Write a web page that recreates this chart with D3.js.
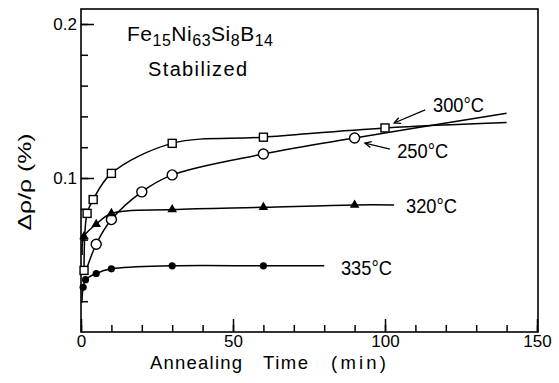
<!DOCTYPE html>
<html><head><meta charset="utf-8">
<script src="https://cdn.jsdelivr.net/npm/d3@7"></script>
<style>body{margin:0;background:#fff}svg{display:block}text{font-family:"Liberation Sans",Arial,sans-serif;fill:#000}</style>
</head><body>
<svg id="c" width="559" height="383"></svg>
<script>
// ---- data (annealing time in min, Δρ/ρ in %) ----
const xTickLabels = [0, 50, 100, 150];
const yTickLabels = [0.1, 0.2];

const t300 = [1, 2, 4, 10, 30, 60, 100];
const v300 = [0.040, 0.077, 0.086, 0.103, 0.1225, 0.1265, 0.1325];
const t300Line = [140], v300Line = [0.136];

const t250 = [5, 10, 20, 30, 60, 90];
const v250 = [0.057, 0.073, 0.091, 0.102, 0.1156, 0.126];
const t250Start = [1.2], v250Start = [0.037];
const t250Line = [140], v250Line = [0.142];

const t320 = [1, 5, 10, 30, 60, 90];
const v320 = [0.062, 0.070, 0.077, 0.0795, 0.081, 0.0825];
const t320Start = [0.4], v320Start = [0.05];
const t320Line = [103], v320Line = [0.0825];

const t335 = [0.7, 1.5, 5, 10, 30, 60];
const v335 = [0.029, 0.034, 0.038, 0.041, 0.043, 0.043];
const t335Start = [0.3], v335Start = [0.019];
const t335Line = [80], v335Line = [0.043];

const seriesLabels = ["300°C", "250°C", "320°C", "335°C"];
const labelT = [115.8, 104, 106.9, 85.5];
const labelV = [0.1429, 0.113, 0.0773, 0.037];
// arrows: tail -> tip
const arrowTail = [[113.2, 0.1442], [101.6, 0.1188]];
const arrowTip  = [[103, 0.1357], [93.4, 0.1227]];

// ---- chart ----
const svg = d3.select("#c");
const x = d3.scaleLinear().domain([0, 150]).range([81, 537]);
const y = d3.scaleLinear().domain([0, 0.2]).range([332, 24]);
const yTop = 9;

const zip = (a, b) => a.map((d, i) => [d, b[i]]);

// frame
svg.append("rect").attr("x", x(0)).attr("y", yTop)
  .attr("width", x(150) - x(0) + 1).attr("height", y(0) - yTop)
  .attr("fill", "none").attr("stroke", "#000").attr("stroke-width", 1.6);

// axes (inward ticks)
const gx = svg.append("g").attr("transform", `translate(0,${y(0)})`);
gx.call(d3.axisBottom(x).tickValues(d3.range(0, 151, 10)).tickSize(-7).tickFormat(""));
const gx2 = svg.append("g").attr("transform", `translate(0,${y(0)})`);
gx2.call(d3.axisBottom(x).tickValues(xTickLabels).tickSize(-13).tickPadding(3).tickFormat(d3.format("d")));
const gy = svg.append("g").attr("transform", `translate(${x(0)},0)`);
gy.call(d3.axisLeft(y).tickValues(d3.range(0.02, 0.201, 0.02)).tickSize(-7).tickFormat(""));
const gy2 = svg.append("g").attr("transform", `translate(${x(0)},0)`);
gy2.call(d3.axisLeft(y).tickValues(yTickLabels).tickSize(-13).tickPadding(4).tickFormat(d3.format(".1f")));
svg.selectAll(".domain").remove();
svg.selectAll(".tick line").attr("stroke", "#000").attr("stroke-width", 1.5);
svg.selectAll(".tick text").attr("font-size", 17).attr("font-family", '"Liberation Sans",Arial,sans-serif').attr("fill", "#000");

// axis titles
const xWords = ["Annealing", "Time", "(min)"];
const xWordX = [150, 263, 331], xWordW = [92, 45, 55];
xWords.forEach((w, i) => svg.append("text").attr("x", xWordX[i]).attr("y", 369)
  .attr("font-size", 18.5).attr("textLength", xWordW[i]).attr("lengthAdjust", "spacing").text(w));
svg.append("text").attr("transform", "translate(31,182) rotate(-90)")
  .attr("text-anchor", "middle").attr("font-size", 19)
  .attr("textLength", 97).attr("lengthAdjust", "spacingAndGlyphs").text("Δρ/ρ (%)");

// title
const title = svg.append("text").attr("x", 127).attr("y", 41).attr("font-size", 21)
  .attr("textLength", 146).attr("lengthAdjust", "spacing");
const parts = [["Fe", 0], ["15", 1], ["Ni", 0], ["63", 1], ["Si", 0], ["8", 1], ["B", 0], ["14", 1]];
let prevSub = 0;
parts.forEach(([s, sub]) => {
  title.append("tspan").attr("dy", sub === prevSub ? 0 : (sub ? 5 : -5))
    .attr("font-size", sub ? 16 : 21).text(s);
  prevSub = sub;
});
svg.append("text").attr("x", 148).attr("y", 76).attr("font-size", 20)
  .attr("textLength", 99).attr("lengthAdjust", "spacing").text("Stabilized");

// lines
const line = d3.line().x(d => x(d[0])).y(d => y(d[1])).curve(d3.curveCatmullRom.alpha(0.5));
const series = [
  {pts: zip(t300, v300), start: [], end: zip(t300Line, v300Line), m: "square"},
  {pts: zip(t250, v250), start: zip(t250Start, v250Start), end: zip(t250Line, v250Line), m: "circle"},
  {pts: zip(t320, v320), start: zip(t320Start, v320Start), end: zip(t320Line, v320Line), m: "triangle"},
  {pts: zip(t335, v335), start: zip(t335Start, v335Start), end: zip(t335Line, v335Line), m: "dot"}
];
series.forEach(s => {
  svg.append("path").attr("d", line([...s.start, ...s.pts, ...s.end]))
    .attr("fill", "none").attr("stroke", "#000").attr("stroke-width", 1.5);
});
// markers
series.forEach(s => {
  const g = svg.append("g");
  s.pts.forEach(p => {
    const cx = x(p[0]), cy = y(p[1]);
    if (s.m === "square") g.append("rect").attr("x", cx - 4).attr("y", cy - 4).attr("width", 8).attr("height", 8)
      .attr("fill", "#fff").attr("stroke", "#000").attr("stroke-width", 1.4);
    else if (s.m === "circle") g.append("circle").attr("cx", cx).attr("cy", cy).attr("r", 5)
      .attr("fill", "#fff").attr("stroke", "#000").attr("stroke-width", 1.4);
    else if (s.m === "triangle") g.append("path").attr("d", d3.symbol(d3.symbolTriangle, 40)())
      .attr("transform", `translate(${cx},${cy})`).attr("fill", "#000");
    else g.append("circle").attr("cx", cx).attr("cy", cy).attr("r", 3.6).attr("fill", "#000");
  });
});

// series labels
seriesLabels.forEach((l, i) => svg.append("text").attr("x", x(labelT[i])).attr("y", y(labelV[i]))
  .attr("font-size", 20).attr("textLength", 51).attr("lengthAdjust", "spacingAndGlyphs").text(l));

// arrows
arrowTail.forEach((tl, i) => {
  const x1 = x(tl[0]), y1 = y(tl[1]), x2 = x(arrowTip[i][0]), y2 = y(arrowTip[i][1]);
  svg.append("line").attr("x1", x1).attr("y1", y1).attr("x2", x2).attr("y2", y2)
    .attr("stroke", "#000").attr("stroke-width", 1.3);
  const a = Math.atan2(y1 - y2, x1 - x2), L = 7, w = 0.45;
  svg.append("path").attr("d", `M${x2 + L * Math.cos(a + w)},${y2 + L * Math.sin(a + w)}L${x2},${y2}L${x2 + L * Math.cos(a - w)},${y2 + L * Math.sin(a - w)}`)
    .attr("fill", "none").attr("stroke", "#000").attr("stroke-width", 1.3);
});
</script>
</body></html>
